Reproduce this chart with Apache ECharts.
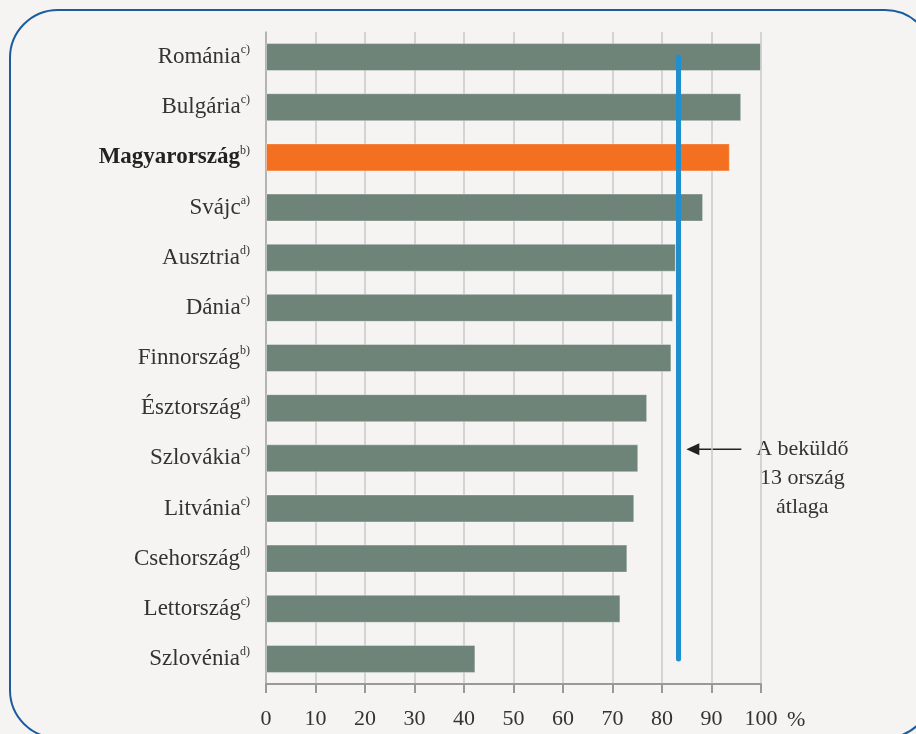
<!DOCTYPE html>
<html>
<head>
<meta charset="utf-8">
<script src="https://cdn.jsdelivr.net/npm/echarts@6/dist/echarts.min.js"></script>
<style>
html,body{margin:0;padding:0;background:#f5f4f2;}
#c{width:916px;height:734px;}
</style>
</head>
<body>
<div id="c"></div>
<script>
// Data
var countries = ['Románia','Bulgária','Magyarország','Svájc','Ausztria','Dánia','Finnország','Észtország','Szlovákia','Litvánia','Csehország','Lettország','Szlovénia'];
var notes     = ['c)','c)','b)','a)','d)','c)','b)','a)','c)','c)','d)','c)','d)'];
var values    = [100, 96.0, 93.7, 88.3, 82.8, 82.2, 81.9, 77.0, 75.2, 74.4, 73.0, 71.6, 42.3];
var average   = 83.3;
var highlight = 'Magyarország';
var annotationLines = ['A beküldő', '13 ország', 'átlaga'];
var xTicks = [0,10,20,30,40,50,60,70,80,90,100];

var FONT = '"Liberation Serif", "DejaVu Serif", serif';
var chart = echarts.init(document.getElementById('c'), null, {renderer:'canvas'});

var option = {
  backgroundColor: '#f5f4f2',
  animation: false,
  grid: {left: 266, right: 155, top: 32, bottom: 50},
  xAxis: {
    type: 'value', min: xTicks[0], max: xTicks[xTicks.length-1], interval: 10,
    name: '%', nameLocation: 'end', nameGap: 26,
    nameTextStyle: {fontFamily: FONT, fontSize: 22, color: '#333', verticalAlign: 'top', padding: [25,0,0,0]},
    axisLine: {show: true, lineStyle: {color: '#999', width: 2}},
    axisTick: {show: true, length: 9, lineStyle: {color: '#999', width: 2}},
    axisLabel: {fontFamily: FONT, fontSize: 22, color: '#333', margin: 24},
    splitLine: {show: true, lineStyle: {color: '#c9c9c9', width: 1.5}}
  },
  yAxis: {
    type: 'category', data: countries, inverse: true,
    axisLine: {show: true, lineStyle: {color: '#aaa', width: 1.5}},
    axisTick: {show: false},
    axisLabel: {
      margin: 16,
      formatter: function(v){
        var idx = countries.indexOf(v);
        var st = v === highlight ? 'b' : 'n';
        return '{' + st + '|' + v + '}{s|' + notes[idx] + '}';
      },
      rich: {
        n: {fontFamily: FONT, fontSize: 23, color: '#333', lineHeight: 26},
        b: {fontFamily: FONT, fontSize: 23, fontWeight: 'bold', color: '#222', lineHeight: 26},
        s: {fontFamily: FONT, fontSize: 12, color: '#333', lineHeight: 14, verticalAlign: 'top'}
      }
    }
  },
  series: [{
    type: 'bar',
    data: values.map(function(v, i){
      return {value: v, itemStyle: {color: countries[i] === highlight ? '#f37021' : '#6f8478'}};
    }),
    barWidth: 28,
    itemStyle: {borderColor: 'rgba(255,255,255,0.35)', borderWidth: 1},
    markLine: {
      silent: true, symbol: ['none','none'],
      lineStyle: {color: '#1f8fd0', width: 5, type: 'solid', cap: 'round'},
      label: {show: false},
      data: [[{coord: [average, countries[0]]}, {coord: [average, countries[countries.length-1]]}]]
    }
  }],
  graphic: [{
    type: 'rect', silent: true, z: 100,
    shape: {x: 10, y: 10, width: 923, height: 728, r: 48},
    style: {fill: 'none', stroke: '#1a5c9e', lineWidth: 2}
  }]
};
chart.setOption(option);

// Annotation positioned relative to the average line
var tip = chart.convertToPixel({gridIndex: 0}, [average, 'Szlovákia']);
var ax = tip[0] + 8, ay = tip[1] - 9;
var tx = ax + 116;
chart.setOption({graphic: [
  option.graphic[0],
  {type: 'line', silent: true, shape: {x1: ax + 10, y1: ay, x2: ax + 55, y2: ay}, style: {stroke: '#222', lineWidth: 1.5}},
  {type: 'polygon', silent: true, shape: {points: [[ax, ay], [ax + 13, ay - 6], [ax + 13, ay + 6]]}, style: {fill: '#222'}},
  {type: 'text', silent: true, x: tx, y: ay, style: {text: annotationLines[0], font: '22px ' + FONT, fill: '#333', align: 'center', verticalAlign: 'middle'}},
  {type: 'text', silent: true, x: tx, y: ay + 29, style: {text: annotationLines[1], font: '22px ' + FONT, fill: '#333', align: 'center', verticalAlign: 'middle'}},
  {type: 'text', silent: true, x: tx, y: ay + 58, style: {text: annotationLines[2], font: '22px ' + FONT, fill: '#333', align: 'center', verticalAlign: 'middle'}}
]});
</script>
</body>
</html>
